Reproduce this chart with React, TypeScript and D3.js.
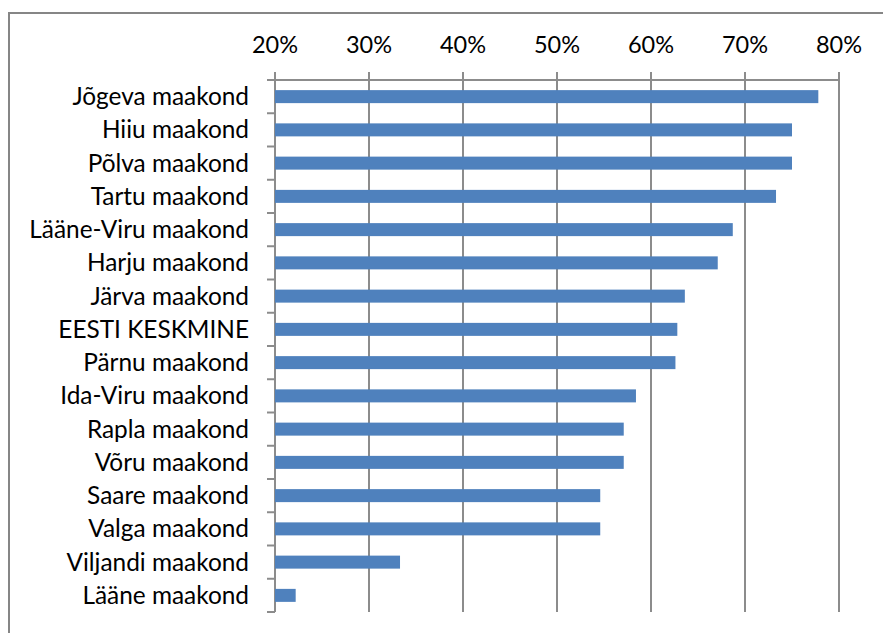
import React from "react";
import * as d3 from "d3";

const categories = [
  "Jõgeva maakond",
  "Hiiu maakond",
  "Põlva maakond",
  "Tartu maakond",
  "Lääne-Viru maakond",
  "Harju maakond",
  "Järva maakond",
  "EESTI KESKMINE",
  "Pärnu maakond",
  "Ida-Viru maakond",
  "Rapla maakond",
  "Võru maakond",
  "Saare maakond",
  "Valga maakond",
  "Viljandi maakond",
  "Lääne maakond",
];
const values = [77.8, 75.0, 75.0, 73.3, 68.7, 67.1, 63.6, 62.8, 62.6, 58.4, 57.1, 57.1, 54.6, 54.6, 33.3, 22.2];
const tickValues = [20, 30, 40, 50, 60, 70, 80];

const W = 883;
const H = 633;
const left = 275;
const right = 839;
const top = 80;
const bottom = 612;
const FONT = "Lato, sans-serif";

export default function App() {
  const x = d3.scaleLinear().domain([20, 80]).range([left, right]);
  const y = d3.scaleBand().domain(categories).range([top, bottom]).paddingInner(0).paddingOuter(0);
  const bw = y.bandwidth();
  const barH = 13;
  const boundaries = d3.range(categories.length + 1).map((i) => top + i * bw);
  return (
    <svg width={W} height={H} style={{ position: "absolute", left: 0, top: 0, background: "#fff" }}>
      <rect x={9} y={13} width={W} height={H} fill="#fff" stroke="#868686" strokeWidth={2} />
      {tickValues.map((t) => (
        <line key={"g" + t} x1={x(t)} x2={x(t)} y1={top - 8} y2={bottom} stroke="#8c8c8c" strokeWidth={2} />
      ))}
      <line x1={left} x2={right} y1={top} y2={top} stroke="#8c8c8c" strokeWidth={2} />
      {boundaries.map((b, i) => (
        <line key={"t" + i} x1={left - 8} x2={left} y1={b} y2={b} stroke="#8c8c8c" strokeWidth={2} />
      ))}
      {tickValues.map((t) => (
        <text key={"l" + t} x={x(t)} y={53} textAnchor="middle" fontFamily={FONT} fontSize={23.5} fill="#000">
          {t}%
        </text>
      ))}
      {categories.map((c, i) => (
        <g key={c}>
          <rect
            x={x(20)}
            y={(y(c) as number) + bw / 2 - barH / 2}
            width={x(values[i]) - x(20)}
            height={barH}
            fill="#4F81BD"
          />
          <text
            x={249}
            y={(y(c) as number) + bw / 2}
            dy="0.35em"
            textAnchor="end"
            fontFamily={FONT}
            fontSize={24.4}
            fill="#000"
          >
            {c}
          </text>
        </g>
      ))}
    </svg>
  );
}
